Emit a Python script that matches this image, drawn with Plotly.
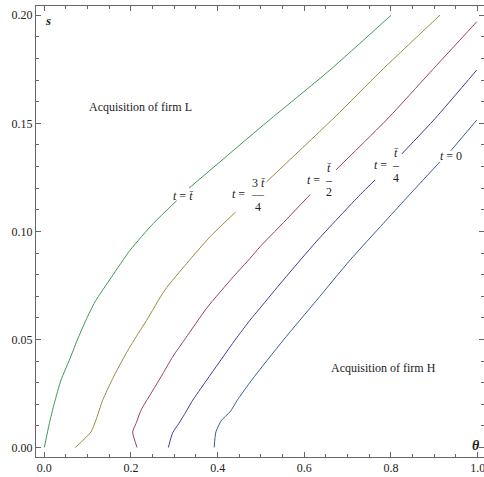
import plotly.graph_objects as go

# ---- data (theta, s); None marks the gap left for the contour label
green_theta = [0, 0.0115, 0.023, 0.0385, 0.0577, 0.076, 0.0962, 0.117, 0.1555, 0.198, 0.2516, 0.3055,
               None, 0.334, 0.5054, 0.6593, 0.8]
green_s = [0, 0.0111, 0.0204, 0.0312, 0.0404, 0.0497, 0.059, 0.0674, 0.079, 0.0913, 0.1037, 0.1142,
           None, 0.12, 0.1492, 0.1747, 0.2]

gold_theta = [0.0715, 0.1078, 0.119, 0.1347, 0.1578, 0.1886, 0.219, 0.236, 0.278, 0.3287, 0.3824, 0.4417,
              None, 0.513, 0.6709, 0.7747, 0.9132]
gold_s = [0, 0.0072, 0.0126, 0.0219, 0.0319, 0.0435, 0.0535, 0.0588, 0.0728, 0.0852, 0.0975, 0.109,
          None, 0.123, 0.153, 0.1738, 0.2001]

red_theta = [0.214, 0.204, 0.2116, 0.2232, 0.2462, 0.2693, 0.2963, 0.3258, 0.3748, 0.4362, 0.4747, 0.4978,
             0.5516, 0.6133, None, 0.6732, 0.794, 0.890, 0.998]
red_s = [0, 0.0072, 0.0111, 0.0173, 0.025, 0.0327, 0.042, 0.0505, 0.0645, 0.079, 0.0875, 0.0929,
         0.104, 0.117, None, 0.1285, 0.1525, 0.1735, 0.197]

purple_theta = [0.2862, 0.2963, 0.310, 0.327, 0.340, 0.3748, 0.440, 0.4747, 0.4978, 0.5516, 0.6287, 0.729,
                0.7632, None, 0.8248, 0.9017, 0.998]
purple_s = [0, 0.0068, 0.011, 0.0165, 0.0211, 0.0312, 0.0497, 0.0589, 0.0645, 0.0775, 0.0955, 0.117,
            0.1238, None, 0.1358, 0.1522, 0.1747]

blue_theta = [0.392, 0.396, 0.409, 0.4286, 0.4454, 0.4786, 0.5516, 0.6287, 0.7055, 0.7824, 0.836, 0.913,
              None, 0.938, 0.998]
blue_s = [0, 0.0072, 0.0126, 0.0165, 0.0219, 0.0312, 0.0497, 0.0682, 0.0867, 0.1037, 0.1155, 0.1322,
          None, 0.1373, 0.1515]

x_tickvals = [0, 0.2, 0.4, 0.6, 0.8, 1.0]
y_tickvals = [0, 0.05, 0.10, 0.15, 0.20]

FONT = "Liberation Serif, Times New Roman, serif"
TXT = "#222222"
FRAME = "#666666"

series = [
    (green_theta, green_s, "#3D9956"),
    (gold_theta, gold_s, "#998B3D"),
    (red_theta, red_s, "#993D71"),
    (purple_theta, purple_s, "#3F3D99"),
    (blue_theta, blue_s, "#3D5A99"),
]

fig = go.Figure()
for xs, ys, c in series:
    fig.add_trace(go.Scatter(x=xs, y=ys, mode="lines",
                             line=dict(color=c, width=1, shape="spline", smoothing=0.6),
                             connectgaps=False, showlegend=False, hoverinfo="skip"))

ann = []
def add(x, y, text, xs=0, ys=0, size=12):
    ann.append(dict(x=x, y=y, xref="x", yref="y", text=text, showarrow=False,
                    xshift=xs, yshift=ys, font=dict(family=FONT, size=size, color=TXT)))

TB = "<i>t\u0304</i>"
# contour labels
add(0.32, 0.1163, "<i>t</i> = " + TB)
# 3 tbar / 4
add(0.494, 0.1173, "<i>t</i> =", xs=-20)
add(0.494, 0.1173, "3 " + TB, ys=11)
add(0.494, 0.1173, "\u2015", ys=0)
add(0.494, 0.1173, "4", ys=-13)
# tbar / 2
add(0.657, 0.124, "<i>t</i> =", xs=-15.5)
add(0.657, 0.124, TB, ys=12)
add(0.657, 0.124, "\u2013", ys=0)
add(0.657, 0.124, "2", ys=-12.5)
# tbar / 4
add(0.811, 0.1307, "<i>t</i> =", xs=-15.5)
add(0.811, 0.1307, TB, ys=12)
add(0.811, 0.1307, "\u2013", ys=0)
add(0.811, 0.1307, "4", ys=-12.5)
# t = 0
add(0.9386, 0.135, "<i>t</i> = 0")

# region texts
add(0.223, 0.1574, "Acquisition of firm L")
add(0.783, 0.0369, "Acquisition of firm H")

# axis labels
add(0.008, 0.1975, "<b><i>s</i></b>", size=13)
add(0.997, 0.0008, "<b><i>\u03b8</i></b>", size=14)

fig.update_layout(
    width=484, height=477,
    margin=dict(l=36, r=0, t=6, b=20),
    paper_bgcolor="white", plot_bgcolor="white",
    annotations=ann,
    font=dict(family=FONT, size=12, color=TXT),
)
axis_common = dict(showgrid=False, zeroline=False, showline=True, linecolor=FRAME, linewidth=1,
                   mirror="allticks", ticks="inside", ticklen=5, tickwidth=1, tickcolor=FRAME,
                   ticklabeloverflow="allow",
                   tickfont=dict(family=FONT, size=12, color=TXT))
fig.update_xaxes(range=[-0.0192, 1.0147], tickvals=x_tickvals, tickformat=".1f",
                 minor=dict(ticks="inside", ticklen=3, dtick=0.05, tick0=0, tickcolor=FRAME),
                 **axis_common)
fig.update_yaxes(range=[-0.0044, 0.2043], tickvals=y_tickvals, tickformat=".2f",
                 minor=dict(ticks="inside", ticklen=3, dtick=0.01, tick0=0, tickcolor=FRAME),
                 **axis_common)

fig.write_html("out.html", config={"displayModeBar": False, "staticPlot": True},
               post_script="document.body.style.margin='0';")
